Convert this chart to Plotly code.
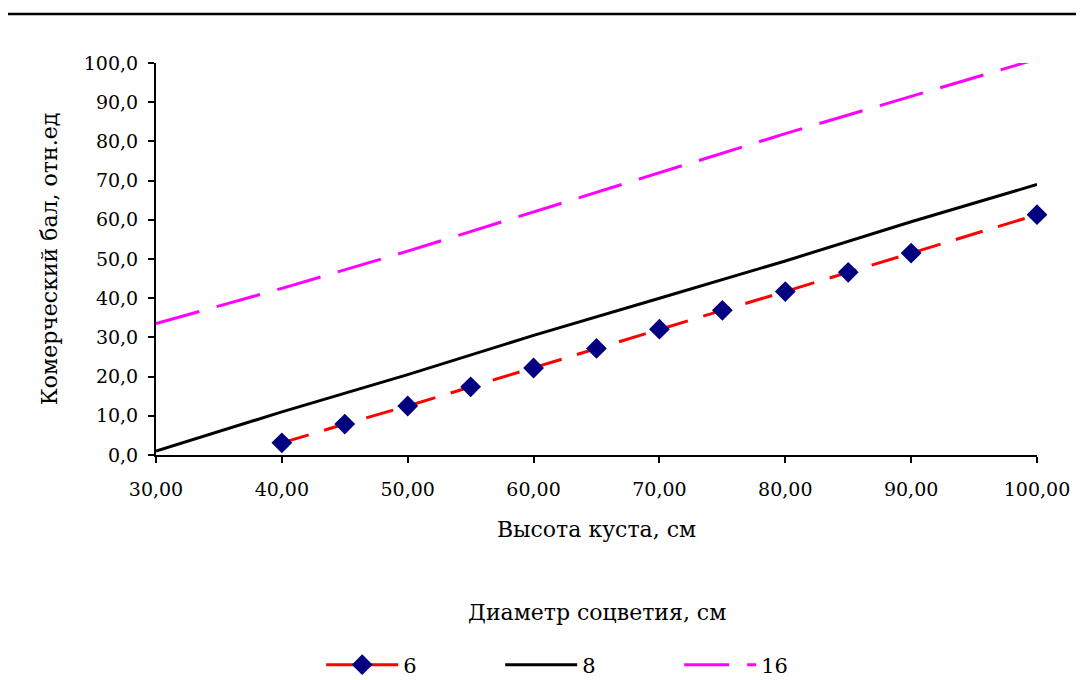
import plotly.graph_objects as go

x6 = [40, 45, 50, 55, 60, 65, 70, 75, 80, 85, 90, 100]
y6 = [3.1, 7.9, 12.5, 17.4, 22.2, 27.2, 32.1, 36.9, 41.7, 46.6, 51.5, 61.3]

x8 = [30, 40, 50, 60, 70, 80, 90, 100]
y8 = [1.0, 11.0, 20.5, 30.5, 40.0, 49.5, 59.5, 69.0]

x16 = [30, 40, 50, 60, 70, 80, 90, 100]
y16 = [33.5, 42.5, 52.0, 62.0, 72.0, 82.0, 91.5, 101.0]

names = ["6", "8", "16"]
x_ticks = [30, 40, 50, 60, 70, 80, 90, 100]
y_ticks = list(range(0, 101, 10))

FONT = "DejaVu Serif"

# page offset of 8px (body margin); plot area in page px: x 156..1037, y 63..455
fig = go.Figure()
fig.add_trace(go.Scatter(
    x=x6, y=y6, name=names[0], mode="lines+markers",
    line=dict(color="#FF0000", width=3, dash="28px,16px"),
    marker=dict(symbol="diamond", size=16, color="#000080"),
    cliponaxis=False,
))
fig.add_trace(go.Scatter(
    x=x8, y=y8, name=names[1], mode="lines",
    line=dict(color="#000000", width=3),
    cliponaxis=False,
))
fig.add_trace(go.Scatter(
    x=x16, y=y16, name=names[2], mode="lines",
    line=dict(color="#FF00FF", width=3, dash="45px,18px"),
    cliponaxis=False,
))

PH = 392.0
def py(p):  # page pixel y -> paper y
    return (455 - p) / PH
def px(p):
    return (p - 156) / 881.0

fig.update_layout(
    width=1084, height=680,
    margin=dict(l=148, r=55, t=55, b=233, autoexpand=False),
    paper_bgcolor="white", plot_bgcolor="white",
    font=dict(family=FONT, size=19, color="black"),
    separators=", ",
    showlegend=True,
    legend=dict(
        orientation="h", x=px(330) - 0.01, xanchor="left", y=py(665), yanchor="middle",
        font=dict(size=21), itemwidth=72, entrywidth=92,
        bgcolor="rgba(0,0,0,0)",
    ),
    xaxis=dict(
        range=[30, 100], tickvals=x_ticks,
        tickformat=".2f", showgrid=False, zeroline=False,
        showline=True, linecolor="black", linewidth=2,
        ticks="outside", tickcolor="black", ticklen=6, tickwidth=2,
        ticklabelstandoff=10,
        title=dict(text="Высота куста, см", font=dict(size=22), standoff=23),
    ),
    yaxis=dict(
        range=[0, 100], tickvals=y_ticks,
        tickformat=".1f", showgrid=False, zeroline=False,
        showline=True, linecolor="black", linewidth=2,
        ticks="outside", tickcolor="black", ticklen=6, tickwidth=2,
        ticklabelstandoff=6,
        title=dict(text="Комерческий бал, отн.ед", font=dict(size=22), standoff=20),
    ),
    annotations=[dict(text="Диаметр соцветия, см", xref="paper", yref="paper",
                      x=px(597), y=py(612), xanchor="center", yanchor="middle",
                      showarrow=False, font=dict(size=22))],
    shapes=[dict(type="line", xref="paper", yref="paper",
                 x0=px(8), x1=px(1084),
                 y0=py(14), y1=py(14),
                 line=dict(color="black", width=2.5))],
)

fig.write_html("out.html")
